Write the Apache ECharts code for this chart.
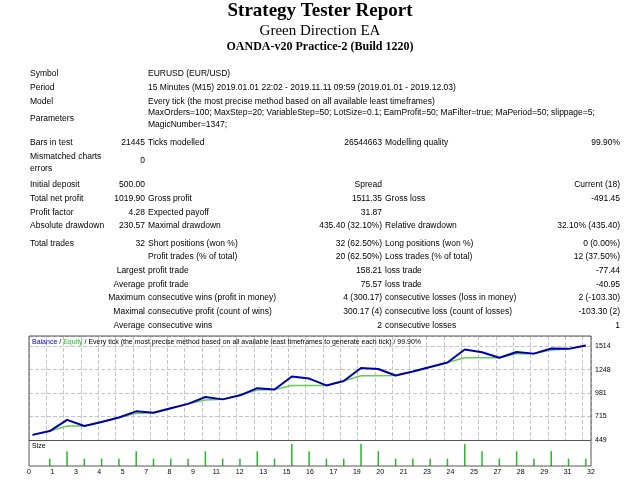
<!DOCTYPE html>
<html><head><meta charset="utf-8">
<script src="https://cdn.jsdelivr.net/npm/echarts@6/dist/echarts.min.js"></script>
<style>html,body{margin:0;padding:0;background:#fff}#main{width:640px;height:480px}</style>
</head><body><div id="main"></div>
<script>
var chart = echarts.init(document.getElementById('main'));

var balance = [507, 550, 677, 608, 654, 705, 774, 759, 809, 859, 937, 910, 956, 1037, 1022, 1169, 1146,
  1068, 1119, 1266, 1254, 1181, 1227, 1278, 1328, 1475, 1444, 1382, 1448, 1429, 1487, 1483, 1522];
var equity = [507, 550, 608, 608, 654, 705, 751, 759, 809, 859, 902, 910, 956, 1015, 1022, 1068, 1068,
  1068, 1119, 1177, 1177, 1181, 1227, 1278, 1328, 1382, 1382, 1382, 1429, 1429, 1470, 1483, 1522];
var sizes = [0, 0.1, 0.2, 0.1, 0.1, 0.1, 0.2, 0.1, 0.1, 0.1, 0.2, 0.1, 0.1, 0.2, 0.1, 0.3, 0.2,
  0.1, 0.1, 0.3, 0.2, 0.1, 0.1, 0.1, 0.1, 0.3, 0.2, 0.1, 0.2, 0.1, 0.2, 0.1, 0.1];
var xLabels = ['0','1','3','4','5','7','8','9','11','12','13','15','16','17','19','20','21','23','24','25','27','28','29','31','32'];

// report rows: [y, text, x, align]
var rows = [
  [74, 'Symbol', 30, 'left'], [74, 'EURUSD (EUR/USD)', 148, 'left'],
  [88, 'Period', 30, 'left'], [88, '15 Minutes (M15) 2019.01.01 22:02 - 2019.11.11 09:59 (2019.01.01 - 2019.12.03)', 148, 'left'],
  [102, 'Model', 30, 'left'], [102, 'Every tick (the most precise method based on all available least timeframes)', 148, 'left'],
  [119, 'Parameters', 30, 'left'],
  [113, 'MaxOrders=100; MaxStep=20; VariableStep=50; LotSize=0.1; EarnProfit=50; MaFilter=true; MaPeriod=50; slippage=5;', 148, 'left'],
  [125, 'MagicNumber=1347;', 148, 'left'],
  [143, 'Bars in test', 30, 'left'], [143, '21445', 145, 'right'], [143, 'Ticks modelled', 148, 'left'],
  [143, '26544663', 382, 'right'], [143, 'Modelling quality', 385, 'left'], [143, '99.90%', 620, 'right'],
  [157, 'Mismatched charts', 30, 'left'], [169, 'errors', 30, 'left'], [161, '0', 145, 'right'],
  [185, 'Initial deposit', 30, 'left'], [185, '500.00', 145, 'right'], [185, 'Spread', 382, 'right'], [185, 'Current (18)', 620, 'right'],
  [199, 'Total net profit', 30, 'left'], [199, '1019.90', 145, 'right'], [199, 'Gross profit', 148, 'left'],
  [199, '1511.35', 382, 'right'], [199, 'Gross loss', 385, 'left'], [199, '-491.45', 620, 'right'],
  [213, 'Profit factor', 30, 'left'], [213, '4.28', 145, 'right'], [213, 'Expected payoff', 148, 'left'], [213, '31.87', 382, 'right'],
  [226, 'Absolute drawdown', 30, 'left'], [226, '230.57', 145, 'right'], [226, 'Maximal drawdown', 148, 'left'],
  [226, '435.40 (32.10%)', 382, 'right'], [226, 'Relative drawdown', 385, 'left'], [226, '32.10% (435.40)', 620, 'right'],
  [244, 'Total trades', 30, 'left'], [244, '32', 145, 'right'], [244, 'Short positions (won %)', 148, 'left'],
  [244, '32 (62.50%)', 382, 'right'], [244, 'Long positions (won %)', 385, 'left'], [244, '0 (0.00%)', 620, 'right'],
  [257, 'Profit trades (% of total)', 148, 'left'], [257, '20 (62.50%)', 382, 'right'],
  [257, 'Loss trades (% of total)', 385, 'left'], [257, '12 (37.50%)', 620, 'right'],
  [271, 'Largest', 145, 'right'], [271, 'profit trade', 148, 'left'], [271, '158.21', 382, 'right'],
  [271, 'loss trade', 385, 'left'], [271, '-77.44', 620, 'right'],
  [285, 'Average', 145, 'right'], [285, 'profit trade', 148, 'left'], [285, '75.57', 382, 'right'],
  [285, 'loss trade', 385, 'left'], [285, '-40.95', 620, 'right'],
  [298, 'Maximum', 145, 'right'], [298, 'consecutive wins (profit in money)', 148, 'left'], [298, '4 (300.17)', 382, 'right'],
  [298, 'consecutive losses (loss in money)', 385, 'left'], [298, '2 (-103.30)', 620, 'right'],
  [312, 'Maximal', 145, 'right'], [312, 'consecutive profit (count of wins)', 148, 'left'], [312, '300.17 (4)', 382, 'right'],
  [312, 'consecutive loss (count of losses)', 385, 'left'], [312, '-103.30 (2)', 620, 'right'],
  [326, 'Average', 145, 'right'], [326, 'consecutive wins', 148, 'left'], [326, '2', 382, 'right'],
  [326, 'consecutive losses', 385, 'left'], [326, '1', 620, 'right']
];

var graphics = [
  {type: 'text', left: 'center', top: 2, style: {text: 'Strategy Tester Report', font: 'bold 19px "Liberation Serif"', fill: '#000'}},
  {type: 'text', left: 'center', top: 24, style: {text: 'Green Direction EA', font: '15px "Liberation Serif"', fill: '#000'}},
  {type: 'text', left: 'center', top: 41, style: {text: 'OANDA-v20 Practice-2 (Build 1220)', font: 'bold 12px "Liberation Serif"', fill: '#000'}},
  {type: 'rect', shape: {x: 29, y: 336, width: 562, height: 130}, style: {fill: 'none', stroke: '#555', lineWidth: 1}, z: 10},
  {type: 'line', shape: {x1: 29, y1: 440.5, x2: 591, y2: 440.5}, style: {stroke: '#555', lineWidth: 1}, z: 10},
  {type: 'text', x: 32, y: 339, z: 11, style: {rich: {b: {fill: '#0000cc'}, e: {fill: '#22bb22'}, t: {fill: '#000'}},
    text: '{b|Balance} {t|/} {e|Equity} {t|/ Every tick (the most precise method based on all available least timeframes to generate each tick) / 99.90%}',
    font: '7px "Liberation Sans"'}},
  {type: 'text', x: 32, y: 443, z: 11, style: {text: 'Size', font: '7px "Liberation Sans"', fill: '#000'}}
];
rows.forEach(function (r) {
  graphics.push({type: 'text', x: r[2], y: r[0], style: {text: r[1], font: '8.5px "Liberation Sans"', fill: '#000',
    textAlign: r[3], textVerticalAlign: 'middle'}});
});

var idx = balance.map(function (v, i) { return i; });
var dashed = {show: true, lineStyle: {color: '#c4c4c4', type: 'dashed'}};

chart.setOption({
  animation: false,
  grid: [
    {left: 29, right: 49, top: 336, height: 104},
    {left: 29, right: 49, top: 441, height: 25}
  ],
  xAxis: [
    {type: 'value', gridIndex: 0, min: -0.2, max: 32.3, interval: 1, axisLabel: {show: false}, axisTick: {show: false}, axisLine: {show: false}, splitLine: dashed},
    {type: 'value', gridIndex: 1, min: -0.2, max: 32.3, show: false},
    {type: 'category', gridIndex: 1, data: xLabels, boundaryGap: false, position: 'bottom',
      axisLine: {show: false}, axisTick: {show: false},
      axisLabel: {fontSize: 7, color: '#000', interval: 0, margin: 3, fontFamily: 'Liberation Sans'}}
  ],
  yAxis: [
    {type: 'value', gridIndex: 0, position: 'right', min: 449, max: 1629, interval: 266.2,
      axisLine: {show: false}, axisTick: {show: false}, splitLine: dashed,
      axisLabel: {fontSize: 7, color: '#000', margin: 4, showMaxLabel: false, fontFamily: 'Liberation Sans',
        formatter: function (v) { return Math.round(v); }}},
    {type: 'value', gridIndex: 1, min: 0, max: 0.34, show: false}
  ],
  graphic: graphics,
  series: [
    {type: 'line', xAxisIndex: 0, yAxisIndex: 0, data: idx.map(function (i) { return [i, equity[i]]; }),
      symbol: 'none', lineStyle: {color: '#66cc55', width: 1.5}},
    {type: 'line', xAxisIndex: 0, yAxisIndex: 0, data: idx.map(function (i) { return [i, balance[i]]; }),
      symbol: 'none', lineStyle: {color: '#0000aa', width: 2}},
    {type: 'bar', xAxisIndex: 1, yAxisIndex: 1, data: idx.map(function (i) { return [i, sizes[i]]; }),
      barWidth: 1.5, itemStyle: {color: '#22bb22'}}
  ]
});
</script></body></html>
